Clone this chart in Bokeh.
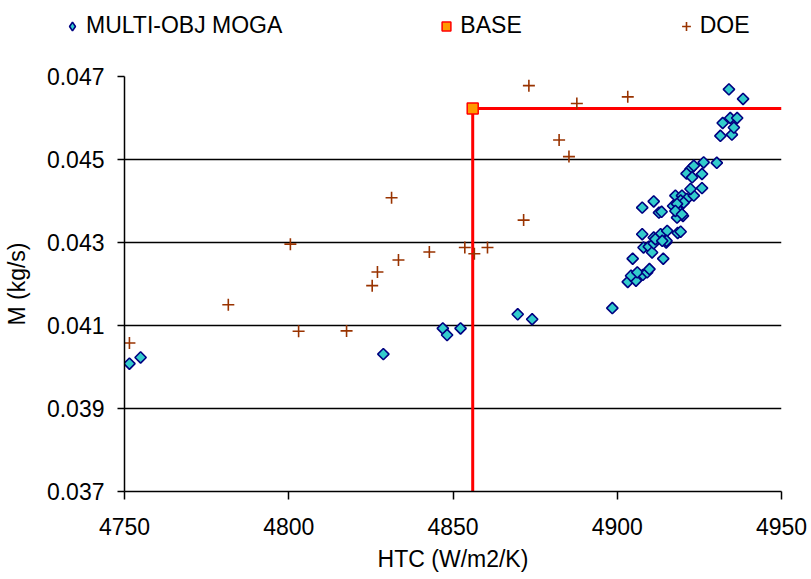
import math
from bokeh.plotting import figure
from bokeh.layouts import column
from bokeh.models import Legend, LegendItem, FixedTicker
from bokeh.embed import file_html
from bokeh.resources import INLINE

# MULTI-OBJ MOGA designs: heat transfer coefficient vs mass flow
moga_htc = [4751.5, 4754.9, 4828.8, 4846.9, 4848.2, 4852.3, 4869.7, 4874.1, 4898.5,
            4903.2, 4905.7, 4904.2, 4907.8, 4906.1, 4909.1, 4909.8, 4904.7, 4914.0,
            4908.0, 4909.6, 4910.6, 4911.1, 4914.9, 4907.6, 4913.2, 4915.2, 4915.0,
            4918.4, 4911.1, 4919.3, 4907.6, 4911.1, 4912.7, 4913.5, 4917.0, 4918.4,
            4920.0, 4918.2, 4917.7, 4919.7, 4921.2, 4919.3, 4920.2, 4923.3, 4922.3,
            4925.8, 4922.3, 4921.1, 4922.8, 4925.8, 4923.3, 4926.3, 4930.3, 4931.4,
            4934.9, 4935.5, 4932.1, 4934.4, 4936.5, 4934.0, 4938.3, 4918.2, 4917.7,
            4919.7, 4911.6, 4913.7]
moga_m = [0.04008, 0.04023, 0.04031, 0.04093, 0.04077, 0.04093, 0.04127, 0.04115, 0.04142,
          0.04205, 0.04208, 0.04220, 0.04222, 0.04228, 0.04228, 0.04236, 0.04261, 0.04261,
          0.04288, 0.04290, 0.04276, 0.04298, 0.04300, 0.04320, 0.04320, 0.04328, 0.04304,
          0.04323, 0.04312, 0.04326, 0.04384, 0.04399, 0.04372, 0.04374, 0.04388, 0.04380,
          0.04364, 0.04360, 0.04413, 0.04413, 0.04405, 0.04401, 0.04396, 0.04413, 0.04429,
          0.04431, 0.04477, 0.04466, 0.04457, 0.04465, 0.04485, 0.04493, 0.04492, 0.04557,
          0.04560, 0.04577, 0.04588, 0.04600, 0.04600, 0.04669, 0.04646, 0.04393, 0.04376,
          0.04368, 0.04308, 0.04304]

# Baseline design
base_htc = [4856.0]
base_m = [0.04623]

# Design-of-experiments samples
doe_htc = [4751.5, 4781.6, 4800.5, 4803.0, 4817.6, 4825.4, 4827.0, 4831.3, 4833.4,
           4842.8, 4853.6, 4856.5, 4860.5, 4871.5, 4873.1, 4882.3, 4885.3, 4887.7, 4903.2]
doe_m = [0.04058, 0.04150, 0.04296, 0.04086, 0.04087, 0.04196, 0.04229, 0.04408, 0.04258,
         0.04277, 0.04288, 0.04273, 0.04288, 0.04354, 0.04678, 0.04547, 0.04507, 0.04635, 0.04651]

htc_ticks = [4750, 4800, 4850, 4900, 4950]
m_ticks = [0.037, 0.039, 0.041, 0.043, 0.045, 0.047]

FONT = "Liberation Sans"
FS = "23px"

# marker styles shared by the chart and its legend strip
MOGA_COLORS = dict(fill_color="#33CCCC", line_color="#000080", line_width=1.6)
BASE_STYLE = dict(marker="square", fill_color="#FF9900", line_color="#FF0000", line_width=1.5)
DOE_STYLE = dict(marker="cross", line_color="#993300", line_width=1.6)

# ---- main chart ----
p = figure(width=811, height=523, output_backend="svg", toolbar_location=None,
           x_range=(htc_ticks[0], htc_ticks[-1]), y_range=(m_ticks[0], m_ticks[-1]),
           min_border_left=124, min_border_right=30, min_border_top=20, min_border_bottom=88)
p.frame_align = False
p.outline_line_color = None
p.background_fill_color = "white"

p.xaxis.ticker = FixedTicker(ticks=htc_ticks)
p.yaxis.ticker = FixedTicker(ticks=m_ticks)
p.yaxis.major_label_overrides = {t: f"{t:.3f}" for t in m_ticks}
for ax in (p.xaxis[0], p.yaxis[0]):
    ax.axis_line_color = "black"
    ax.axis_line_width = 1.5
    ax.major_tick_line_color = "black"
    ax.major_tick_line_width = 1.5
    ax.major_tick_in = 0
    ax.minor_tick_line_color = None
    ax.major_label_text_font = FONT
    ax.major_label_text_font_size = FS
    ax.major_label_text_color = "black"
    ax.axis_label_text_font = FONT
    ax.axis_label_text_font_size = FS
    ax.axis_label_text_font_style = "normal"
    ax.axis_label_text_color = "black"
p.xaxis.axis_label = "HTC (W/m2/K)"
p.yaxis.axis_label = "M (kg/s)"
p.xaxis.major_tick_out = 8
p.yaxis.major_tick_out = 7
p.xaxis.major_label_standoff = 18
p.xaxis.axis_label_standoff = 8
p.yaxis.major_label_standoff = 13
p.yaxis.axis_label_standoff = 14

p.xgrid.grid_line_color = None
p.ygrid.grid_line_color = "black"
p.ygrid.grid_line_width = 1.5

# baseline reference lines
p.segment(x0=base_htc, y0=[m_ticks[0]], x1=base_htc, y1=base_m, line_color="#FF0000", line_width=3)
p.segment(x0=base_htc, y0=base_m, x1=[htc_ticks[-1]], y1=base_m, line_color="#FF0000", line_width=3)

p.scatter(doe_htc, doe_m, size=12, **DOE_STYLE)
p.scatter(moga_htc, moga_m, marker="square", angle=math.pi / 4, size=8, **MOGA_COLORS)
p.scatter(base_htc, base_m, size=11, **BASE_STYLE)

# ---- legend strip above the chart (key renderers sit outside its view range) ----
lg = figure(width=811, height=56, output_backend="svg", toolbar_location=None,
            x_range=(0, 1), y_range=(0, 1), min_border=0,
            x_axis_location=None, y_axis_location=None)
lg.frame_align = False
lg.grid.visible = False
lg.outline_line_color = None
key_moga = lg.scatter(x=moga_htc[:1], y=moga_m[:1], marker="diamond", size=12, **MOGA_COLORS)
key_base = lg.scatter(x=base_htc, y=base_m, size=11, **BASE_STYLE)
key_doe = lg.scatter(x=doe_htc[:1], y=doe_m[:1], size=12, **DOE_STYLE)

legend = Legend(items=[LegendItem(label="MULTI-OBJ MOGA", renderers=[key_moga]),
                       LegendItem(label="BASE", renderers=[key_base]),
                       LegendItem(label="DOE", renderers=[key_doe])],
                location=(61, 17), orientation="horizontal", spacing=153,
                border_line_color=None, background_fill_alpha=0,
                padding=0, margin=0, glyph_width=22, glyph_height=22,
                label_standoff=3, label_text_font=FONT, label_text_font_size=FS,
                label_text_color="black")
lg.add_layout(legend, "center")

layout = column(lg, p, spacing=0)
open("out.html", "w").write(file_html(layout, INLINE))
